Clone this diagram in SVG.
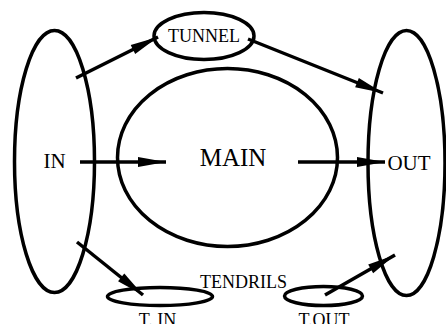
<svg xmlns="http://www.w3.org/2000/svg" width="446" height="324" viewBox="0 0 446 324">
<style>
.n{fill:none;stroke:#000;stroke-width:3.5}
.c line{stroke:#000;stroke-width:3.5}
text{font-family:"Liberation Serif","Times New Roman",serif;fill:#000;text-anchor:middle}
</style>
<defs>
<marker id="ah" markerUnits="userSpaceOnUse" markerWidth="30" markerHeight="12" refX="28" refY="5" orient="auto" overflow="visible">
<path d="M0,0 L28,5 L0,10 Z" fill="#000"/>
</marker>
</defs>
<rect width="446" height="324" fill="#fff"/>
<g id="IN"><ellipse class="n" cx="54.5" cy="161.5" rx="40" ry="131"/><text x="54.5" y="168" font-size="21">IN</text></g>
<g id="TUNNEL"><ellipse class="n" cx="204" cy="36" rx="50" ry="23.5"/><text x="204" y="42" font-size="18">TUNNEL</text></g>
<g id="MAIN"><ellipse class="n" cx="227.5" cy="157.5" rx="110" ry="89"/><text x="233" y="166" font-size="25">MAIN</text></g>
<g id="OUT"><ellipse class="n" cx="406.5" cy="163" rx="38.5" ry="132.5"/><text x="409" y="170" font-size="21">OUT</text></g>
<g id="T_IN"><ellipse class="n" cx="160" cy="296.5" rx="52.5" ry="9"/><text x="157.5" y="326" font-size="18">T. IN</text></g>
<g id="T_OUT"><ellipse class="n" cx="323.5" cy="296" rx="39" ry="9.5"/><text x="324" y="326" font-size="18">T.OUT</text></g>
<g id="TENDRILS"><text x="243.5" y="288" font-size="18">TENDRILS</text></g>
<g class="c" id="connectors">
<line x1="80" y1="162" x2="166" y2="162" marker-end="url(#ah)"/>
<line x1="298" y1="162" x2="385" y2="162" marker-end="url(#ah)"/>
<line x1="76" y1="78" x2="158" y2="37" marker-end="url(#ah)"/>
<line x1="248" y1="39" x2="383" y2="93" marker-end="url(#ah)"/>
<line x1="77" y1="242" x2="143" y2="295" marker-end="url(#ah)"/>
<line x1="325" y1="295" x2="395" y2="255" marker-end="url(#ah)"/>
</g>
</svg>
